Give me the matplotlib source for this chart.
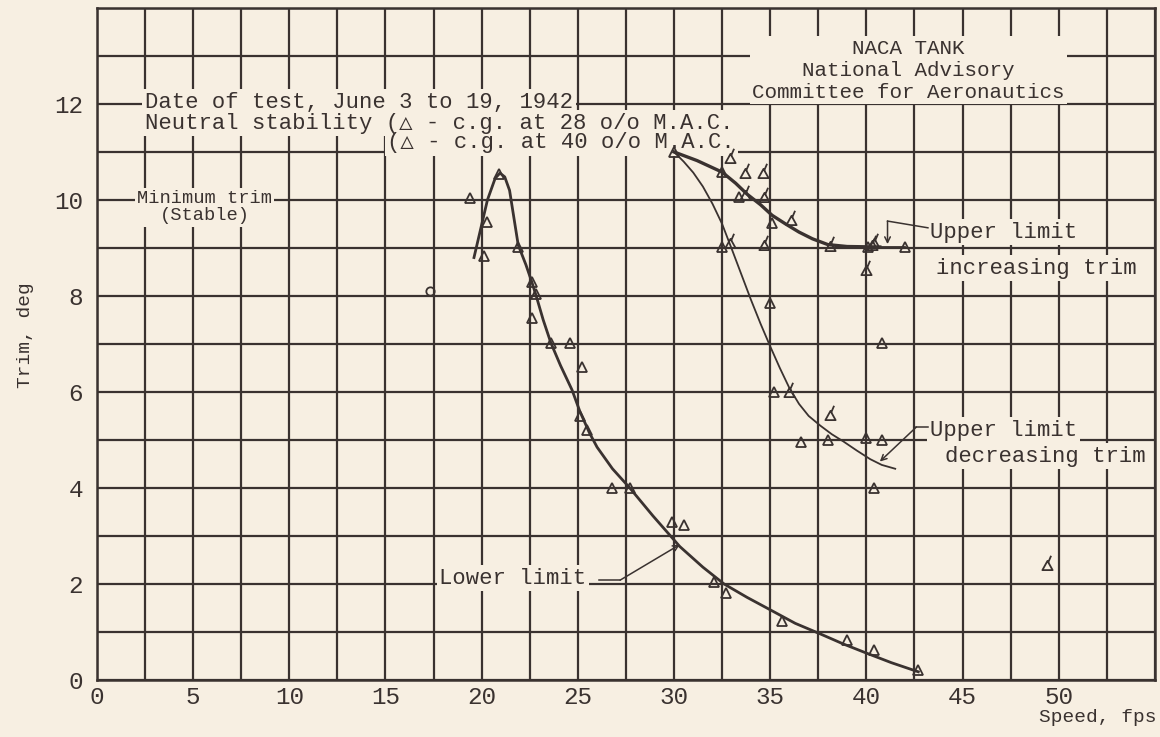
#!/usr/bin/env python3
"""
Trim limits of stability vs speed, NACA tank chart (June 1942).
"""

import numpy as np
import matplotlib
matplotlib.use("Agg")
import matplotlib.pyplot as plt
from matplotlib.path import Path

BG = '#f7efe2'
INK = '#3a3230'
FONT = ['Liberation Mono', 'DejaVu Sans Mono']

# axis ticks
x_ticks = np.arange(0, 55.1, 2.5)
x_labels = ['0', '', '5', '', '10', '', '15', '', '20', '', '25', '', '30', '',
            '35', '', '40', '', '45', '', '50', '', '']
y_ticks = np.arange(0, 14.1, 1)
y_labels = ['0', '', '2', '', '4', '', '6', '', '8', '', '10', '', '12', '', '']

# faired curves
lower_x = [19.6, 19.95, 20.3, 20.7, 20.95, 21.2, 21.45, 21.9, 22.3, 22.6, 22.85,
           23.2, 23.6, 24.1, 24.7, 25.1, 25.6, 26.0, 26.8, 27.7, 28.9, 30.3,
           31.5, 32.6, 33.8, 35.1, 36.3, 37.6, 38.8, 40.0, 41.3, 42.7]
lower_y = [8.8, 9.4, 10.0, 10.45, 10.56, 10.48, 10.2, 9.06, 8.65, 8.3, 7.98,
           7.5, 7.02, 6.55, 6.04, 5.6, 5.15, 4.85, 4.4, 4.0, 3.42, 2.78,
           2.35, 2.0, 1.72, 1.44, 1.18, 0.96, 0.75, 0.56, 0.36, 0.17]

inc_x = [30.0, 31.2, 32.5, 33.2, 33.8, 34.5, 35.1, 35.8, 36.5, 37.2, 38.0, 39.0, 40.7]
inc_y = [11.0, 10.82, 10.58, 10.35, 10.12, 9.9, 9.68, 9.5, 9.33, 9.19, 9.07, 9.03, 9.02]
inc_ext_x = [40.7, 42.0]
inc_ext_y = [9.02, 9.02]

dec_x = [30.0, 30.5, 31.0, 31.5, 32.0, 32.5, 33.0, 33.5, 34.0, 34.5, 35.0, 35.5,
         36.0, 36.5, 37.0, 37.6, 38.2, 38.8, 39.5, 40.2, 40.8, 41.5]
dec_y = [11.0, 10.8, 10.57, 10.28, 9.92, 9.5, 8.98, 8.45, 7.92, 7.42, 6.95, 6.5,
         6.08, 5.75, 5.5, 5.3, 5.12, 4.97, 4.78, 4.6, 4.48, 4.4]

# test points, c.g. at 28 percent M.A.C.
cg28_x = [19.4, 20.1, 20.3, 20.9, 21.9, 22.6, 22.8, 22.6, 23.6, 24.6, 25.2, 25.1,
          25.5, 26.8, 27.7, 29.9, 30.5, 32.1, 32.7, 35.6, 39.0, 40.4, 42.7,
          30.0, 32.5, 33.4, 35.1, 32.5, 40.1, 42.0, 35.0, 40.8, 35.2, 36.6,
          38.0, 40.0, 40.8, 40.4]
cg28_y = [10.04, 8.83, 9.54, 10.54, 9.02, 8.29, 8.04, 7.54, 7.02, 7.02, 6.52, 5.5,
          5.2, 4.0, 4.0, 3.29, 3.23, 2.04, 1.81, 1.23, 0.83, 0.63, 0.21,
          11.0, 10.58, 10.06, 9.52, 9.02, 9.02, 9.02, 7.85, 7.02, 6.0, 4.96,
          5.0, 5.04, 5.0, 4.0]

# test points, c.g. at 40 percent M.A.C. (flagged symbol)
cg40_x = [32.9, 33.7, 34.6, 33.7, 34.7, 36.1, 32.9, 34.7, 38.1, 40.3, 40.4,
          40.0, 36.0, 38.1, 49.4]
cg40_y = [10.87, 10.56, 10.56, 10.1, 10.06, 9.58, 9.1, 9.06, 9.04, 9.06, 9.1,
          8.54, 6.0, 5.52, 2.4]

# single circled point
circ_x = [17.3]
circ_y = [8.1]

# triangle with a flag stroke
flag_marker = Path(
    [(-0.5, -0.45), (0.5, -0.45), (0.0, 0.45), (-0.5, -0.45),
     (0.05, 0.25), (0.35, 0.95)],
    [Path.MOVETO, Path.LINETO, Path.LINETO, Path.CLOSEPOLY,
     Path.MOVETO, Path.LINETO])

plt.rcParams['font.family'] = FONT
plt.rcParams['text.color'] = INK

fig = plt.figure(figsize=(11.6, 7.37), dpi=100, facecolor=BG)
ax = fig.add_axes([0.0836, 0.0774, 0.912, 0.9118])
ax.set_facecolor(BG)
ax.set_xlim(0, 55)
ax.set_ylim(0, 14)

ax.set_xticks(x_ticks)
ax.set_xticklabels(x_labels)
ax.set_yticks(y_ticks)
ax.set_yticklabels(y_labels)
ax.tick_params(length=0, labelsize=17.5, colors=INK)
ax.tick_params(axis='y', pad=10)
ax.tick_params(axis='x', pad=4)
ax.grid(True, color=INK, lw=1.6, zorder=0.5)
ax.set_axisbelow(True)
for sp in ax.spines.values():
    sp.set_color(INK)
    sp.set_linewidth(1.8)


def label(x, y, s, size=16, **kw):
    # blank patch behind the text breaks the grid lines, text itself on top
    ax.text(x, y, s, fontsize=size, color='none', zorder=2,
            bbox=dict(boxstyle='square,pad=0.12', fc=BG, ec='none'), **kw)
    ax.text(x, y, s, fontsize=size, color=INK, zorder=6, **kw)


# curves
ax.plot(lower_x, lower_y, color=INK, lw=2.0, zorder=3)
ax.plot(inc_x, inc_y, color=INK, lw=2.4, zorder=3)
ax.plot(inc_ext_x, inc_ext_y, color=INK, lw=1.3, zorder=3)
ax.plot(dec_x, dec_y, color=INK, lw=1.3, zorder=3)

# points
ax.plot(cg28_x, cg28_y, ls='none', marker='^', ms=7.5, mew=1.3,
        mfc='none', mec=INK, zorder=4)
ax.plot(cg40_x, cg40_y, ls='none', marker=flag_marker, ms=14, mew=1.3,
        mfc='none', mec=INK, zorder=4)
ax.plot(circ_x, circ_y, ls='none', marker='o', ms=6, mew=1.3,
        mfc='none', mec=INK, zorder=4)

# header notes
label(2.5, 12.04, 'Date of test, June 3 to 19, 1942', ha='left', va='center')
label(2.5, 11.6, 'Neutral stability (\u25b3 - c.g. at 28 o/o M.A.C.',
      ha='left', va='center')
label(15.1, 11.19, '(\u25b3 - c.g. at 40 o/o M.A.C.', ha='left', va='center')
label(5.6, 9.85, 'Minimum trim\n(Stable)', size=13.5, ha='center', va='center',
      linespacing=1.05)
label(42.2, 12.7, 'NACA TANK\nNational Advisory\nCommittee for Aeronautics',
      size=15, ha='center', va='center', linespacing=1.2)

# curve labels
label(43.3, 9.33, 'Upper limit', ha='left', va='center')
label(43.6, 8.58, 'increasing trim', ha='left', va='center')
ax.plot([43.2, 41.1], [9.42, 9.56], color=INK, lw=1.1, zorder=5)
ax.annotate('', xy=(41.1, 9.08), xytext=(41.1, 9.56),
            arrowprops=dict(arrowstyle='->', color=INK, lw=1.1,
                            shrinkA=0, shrinkB=0), zorder=5)

label(43.3, 5.2, 'Upper limit', ha='left', va='center')
label(44.1, 4.66, 'decreasing trim', ha='left', va='center')
ax.plot([43.2, 42.6], [5.27, 5.27], color=INK, lw=1.1, zorder=5)
ax.annotate('', xy=(40.7, 4.55), xytext=(42.6, 5.27),
            arrowprops=dict(arrowstyle='->', color=INK, lw=1.1,
                            shrinkA=0, shrinkB=0), zorder=5)

label(17.8, 2.12, 'Lower limit', ha='left', va='center')
ax.plot([26.1, 27.2], [2.08, 2.08], color=INK, lw=1.1, zorder=5)
ax.annotate('', xy=(30.3, 2.82), xytext=(27.2, 2.08),
            arrowprops=dict(arrowstyle='->', color=INK, lw=1.1,
                            shrinkA=0, shrinkB=0), zorder=5)

# axis titles
fig.text(0.022, 0.545, 'Trim, deg', rotation=90, fontsize=14,
         ha='center', va='center')
fig.text(0.896, 0.026, 'Speed, fps', fontsize=14, ha='left', va='center')

fig.savefig('out.png', dpi=100, facecolor=BG)
